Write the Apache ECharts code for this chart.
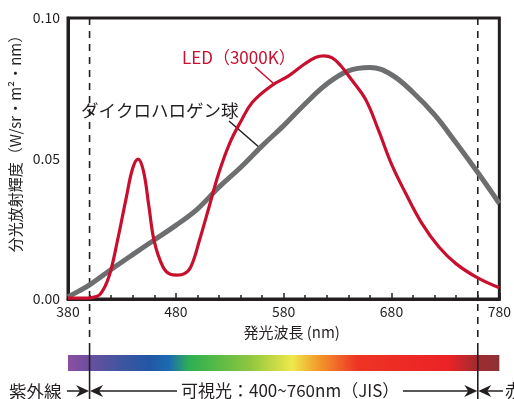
<!DOCTYPE html>
<html>
<head>
<meta charset="utf-8">
<script src="https://cdn.jsdelivr.net/npm/echarts@6/dist/echarts.min.js"></script>
<style>
html, body { margin: 0; padding: 0; background: #fff; }
#spd { width: 514px; height: 399px; }
</style>
</head>
<body>
<div id="spd"></div>
<script>
// LED (3000K)
var ledNm = [380, 395, 402, 410, 418, 426, 434, 440, 445, 450, 455, 460, 468, 475, 481, 488, 494, 502, 511, 520, 530, 540, 551, 569, 585, 600, 610, 617, 625, 633, 643, 656, 668, 680, 693, 708, 724, 740, 760, 780];
var ledValues = [0.0003, 0.0003, 0.0005, 0.0018, 0.008, 0.021, 0.036, 0.0465, 0.0498, 0.0455, 0.033, 0.0205, 0.0115, 0.0088, 0.0085, 0.009, 0.0115, 0.021, 0.033, 0.045, 0.0555, 0.063, 0.070, 0.076, 0.0795, 0.0838, 0.0860, 0.0865, 0.0858, 0.083, 0.078, 0.071, 0.060, 0.048, 0.0377, 0.027, 0.0185, 0.0125, 0.0075, 0.004];
// ダイクロハロゲン球
var halogenNm = [380, 390, 400, 420, 440, 460, 480, 500, 520, 540, 560, 580, 600, 620, 640, 660, 680, 700, 720, 740, 760, 780];
var halogenValues = [0.0008, 0.0028, 0.005, 0.0105, 0.0158, 0.021, 0.0262, 0.032, 0.0398, 0.0468, 0.0545, 0.0617, 0.0695, 0.0765, 0.0812, 0.0824, 0.0798, 0.0735, 0.0655, 0.0555, 0.045, 0.034];
var visibleRange = [400, 760];

var ink = '#231f20';
var red = '#c8102e';
var font = '"Noto Sans CJK JP", "Noto Sans", sans-serif';

function pairs(xs, ys) {
    var out = [];
    for (var i = 0; i < xs.length; i++) out.push([xs[i], ys[i]]);
    return out;
}

var chart = echarts.init(document.getElementById('spd'));

var option = {
    animation: false,
    textStyle: { fontFamily: font },
    grid: {
        left: 68, top: 18, right: 13, bottom: 100,
        show: true, borderColor: ink, borderWidth: 3
    },
    xAxis: {
        type: 'value', min: 380, max: 780, interval: 100,
        axisLine: { lineStyle: { color: ink, width: 3 } },
        axisTick: { inside: true, length: 6, lineStyle: { color: ink, width: 1.5 } },
        minorTick: { show: true, splitNumber: 5, length: 4, lineStyle: { color: ink, width: 1.5 } },
        splitLine: { show: false },
        axisLabel: { color: ink, fontSize: 14, margin: 6, fontFamily: font },
        name: '発光波長 (nm)',
        nameLocation: 'middle',
        nameGap: 26,
        nameTextStyle: { color: ink, fontSize: 15, padding: [0, 0, 0, 16], fontFamily: font }
    },
    yAxis: {
        type: 'value', min: 0, max: 0.1, interval: 0.05,
        axisLine: { show: true, lineStyle: { color: ink, width: 3 } },
        axisTick: { show: false },
        splitLine: { show: false },
        axisLabel: {
            color: ink, fontSize: 14, margin: 8, fontFamily: font,
            formatter: function (v) { return v.toFixed(2); }
        }
    },
    series: [
        {
            name: 'ダイクロハロゲン球',
            type: 'line',
            data: pairs(halogenNm, halogenValues),
            smooth: 0.4,
            showSymbol: false,
            lineStyle: { color: '#6d6e70', width: 5 },
            z: 2
        },
        {
            name: 'LED（3000K）',
            type: 'line',
            data: pairs(ledNm, ledValues),
            smooth: 0.4,
            showSymbol: false,
            lineStyle: { color: red, width: 3.2 },
            z: 3
        }
    ]
};
chart.setOption(option);

// pixel positions from the axis scale
function px(nm) { return chart.convertToPixel({ xAxisIndex: 0 }, nm); }
var x380 = px(380), x780 = px(780);
var xa = px(visibleRange[0]), xb = px(visibleRange[1]);
var plotTop = chart.convertToPixel({ yAxisIndex: 0 }, 0.1);

function arrowHead(tipX, y, dir) {
    // dir: 1 points right, -1 points left
    return {
        type: 'polygon',
        shape: { points: [[tipX, y], [tipX - dir * 13, y - 6], [tipX - dir * 9, y], [tipX - dir * 13, y + 6]] },
        style: { fill: ink }
    };
}
function seg(x1, y1, x2, y2, w, color, dash) {
    return {
        type: 'line',
        shape: { x1: x1, y1: y1, x2: x2, y2: y2 },
        style: { stroke: color || ink, lineWidth: w || 1.5, lineDash: dash || null }
    };
}
function label(text, x, y, size, color, align, rotation) {
    return {
        type: 'text', x: x, y: y, z: 10, rotation: rotation || 0,
        style: { text: text, fill: color || ink, font: size + 'px ' + font, verticalAlign: 'middle', align: align || 'left' }
    };
}

var arrowY = 391;
var barTop = 355, barH = 16;
var spectrumStops = [
    [0.00, '#8c4f9f'], [0.05, '#6a4f9f'], [0.12, '#41559f'], [0.19, '#2157a6'],
    [0.235, '#1c6cb0'], [0.28, '#2eae56'], [0.32, '#45b649'], [0.42, '#8dc63f'],
    [0.52, '#efe84a'], [0.58, '#f39a2b'], [0.67, '#ee3424'], [0.88, '#ec2226'],
    [0.95, '#a02b30'], [1.00, '#8b3236']
];

var graphics = [
    // visible range boundaries
    seg(xa, plotTop, xa, 347, 1.6, ink, [7, 6]),
    seg(xb, plotTop, xb, 347, 1.6, ink, [7, 6]),
    seg(xa, 347, xa, 399, 1.6),
    seg(xb, 347, xb, 399, 1.6),
    // spectrum bar
    {
        type: 'rect',
        shape: { x: x380, y: barTop, width: x780 - x380, height: barH },
        style: {
            fill: new echarts.graphic.LinearGradient(0, 0, 1, 0, spectrumStops.map(function (s) {
                return { offset: s[0], color: s[1] };
            }))
        },
        z: -1
    },
    // annotations
    label('LED（3000K）', 182, 58, 17, red),
    seg(255, 67, 273, 83, 1.5, red),
    label('ダイクロハロゲン球', 81, 110, 17.5, ink),
    seg(229, 121, 260, 148, 1.5),
    label('分光放射輝度（W/sr・m²・nm）', 15, 140, 15, ink, 'center', Math.PI / 2),
    // bottom legend
    label('紫外線', 9, arrowY, 17.5, ink),
    seg(67, arrowY, xa - 8, arrowY, 1.5),
    arrowHead(xa - 0.5, arrowY, 1),
    arrowHead(xa + 0.5, arrowY, -1),
    seg(xa + 8, arrowY, 177, arrowY, 1.5),
    label('可視光：400~760nm（JIS）', 181, arrowY, 17, ink),
    seg(403, arrowY, xb - 8, arrowY, 1.5),
    arrowHead(xb - 0.5, arrowY, 1),
    arrowHead(xb + 0.5, arrowY, -1),
    seg(xb + 8, arrowY, 503, arrowY, 1.5),
    label('赤外線', 505, arrowY, 17, ink)
];

chart.setOption({ graphic: graphics });
</script>
</body>
</html>
